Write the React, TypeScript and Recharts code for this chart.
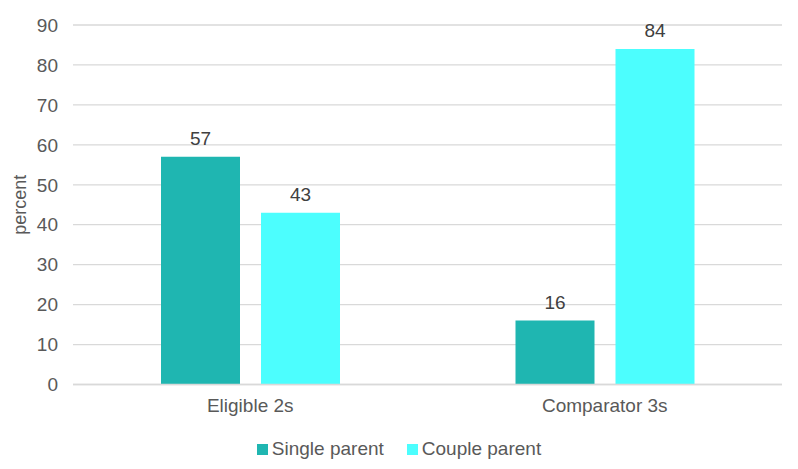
import React from "react";
import {
  BarChart,
  Bar,
  XAxis,
  YAxis,
  CartesianGrid,
  LabelList,
} from "recharts";

const categories = ["Eligible 2s", "Comparator 3s"];
const singleParent = [57, 16];
const coupleParent = [43, 84];
const yTicks = [0, 10, 20, 30, 40, 50, 60, 70, 80, 90];

const SERIES = [
  { key: "single", name: "Single parent", color: "#1FB6B1" },
  { key: "couple", name: "Couple parent", color: "#4CFEFE" },
];

const data = categories.map((c, i) => ({
  category: c,
  single: singleParent[i],
  couple: coupleParent[i],
}));

const FONT = "'Liberation Sans', Arial, sans-serif";
const TEXT = "#595959";
const GRID = "#D9D9D9";

const ChartLegend = () => (
  <div
    style={{
      position: "absolute",
      left: 0,
      top: 438,
      width: 798,
      display: "flex",
      justifyContent: "center",
      fontFamily: FONT,
      fontSize: 19,
      color: TEXT,
      lineHeight: "22px",
    }}
  >
    {SERIES.map((s, i) => (
      <div
        key={s.key}
        style={{
          display: "flex",
          alignItems: "center",
          marginLeft: i === 0 ? 0 : 23,
        }}
      >
        <span
          style={{
            display: "inline-block",
            width: 11,
            height: 11,
            background: s.color,
            marginRight: 4,
          }}
        />
        <span>{s.name}</span>
      </div>
    ))}
  </div>
);

export default function App() {
  return (
    <div style={{ position: "absolute", left: 0, top: 0, width: 798, height: 469, background: "#fff" }}>
      <BarChart
        width={798}
        height={469}
        data={data}
        margin={{ top: 25, right: 16, left: 0, bottom: 54.5 }}
        barSize={79}
        barGap={21}
      >
        <CartesianGrid vertical={false} stroke={GRID} strokeWidth={1.3} />
        <XAxis
          dataKey="category"
          height={30}
          axisLine={{ stroke: GRID, strokeWidth: 1.3 }}
          tickLine={false}
          tickSize={0}
          tickMargin={14}
          tick={{ fill: TEXT, fontSize: 19, fontFamily: FONT }}
        />
        <YAxis
          width={73}
          domain={[0, 90]}
          ticks={yTicks}
          interval={0}
          axisLine={false}
          tickLine={false}
          tickSize={0}
          tickMargin={15}
          tick={{ fill: TEXT, fontSize: 19, fontFamily: FONT }}
          label={{
            value: "percent",
            angle: -90,
            position: "insideLeft",
            offset: 20,
            style: { fill: TEXT, fontSize: 18, fontFamily: FONT, textAnchor: "middle" },
          }}
        />
        {SERIES.map((s) => (
          <Bar
            key={s.key}
            dataKey={s.key}
            name={s.name}
            fill={s.color}
            isAnimationActive={false}
          >
            <LabelList
              dataKey={s.key}
              position="top"
              offset={12}
              style={{ fill: "#404040", fontSize: 19, fontFamily: FONT }}
            />
          </Bar>
        ))}
      </BarChart>
      <ChartLegend />
    </div>
  );
}
